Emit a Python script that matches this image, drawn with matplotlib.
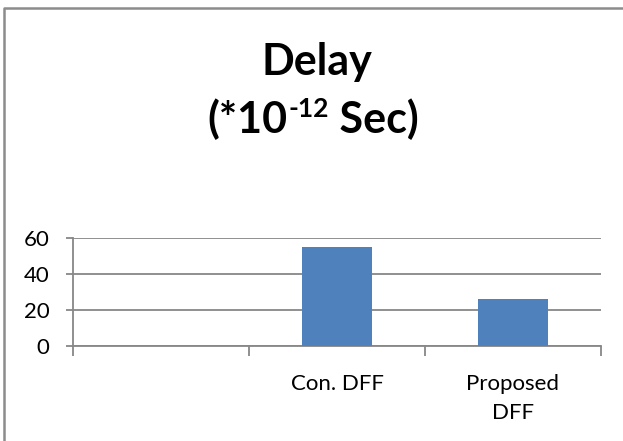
import numpy as np
import matplotlib
matplotlib.use("Agg")
import matplotlib.pyplot as plt
from matplotlib.lines import Line2D

plt.rcParams["font.family"] = ["Lato", "DejaVu Sans"]

# data
categories = ["", "Con. DFF", "Proposed\nDFF"]
delay = [np.nan, 55, 26]  # *10^-12 s, first slot is empty
y_ticks = [0, 20, 40, 60]

GRID = "#878787"
BAR = "#4f81bd"

fig = plt.figure(figsize=(6.23, 4.41), dpi=100)
ax = fig.add_axes([73 / 623, 1 - 346 / 441, 528 / 623, 108 / 441])

x = np.arange(len(categories))
ax.bar(x, delay, width=0.4, color=BAR, zorder=3)

ax.set_xlim(-0.5, len(categories) - 0.5)
ax.set_ylim(0, 60)
ax.set_yticks(y_ticks)
ax.yaxis.grid(True, color=GRID, linewidth=1.3, zorder=0)

# category labels sit between the boundary ticks
ax.set_xticks(x)
ax.set_xticklabels(categories, fontsize=16, linespacing=1.55)
ax.tick_params(axis="x", length=0, pad=20)
ax.set_xticks(np.arange(len(categories) + 1) - 0.5, minor=True)
ax.tick_params(axis="x", which="minor", length=7, width=1.3, color=GRID)
ax.tick_params(axis="y", length=5, width=1.3, color=GRID, labelsize=16, pad=12)

for side in ["top", "right"]:
    ax.spines[side].set_visible(False)
for side in ["left", "bottom"]:
    ax.spines[side].set_color(GRID)
    ax.spines[side].set_linewidth(1.3)

# title, second line built from pieces so the exponent is a raised small text
fig.text(317 / 623, 1 - 75 / 441, "Delay", ha="center", va="baseline",
         fontsize=31, fontweight="bold")
t1 = fig.text(207 / 623, 1 - 133 / 441, "(*10", ha="left", va="baseline",
              fontsize=31, fontweight="bold")
t2 = fig.add_artist(plt.Annotation("-12", xy=(1, 1), xycoords=t1,
                                   xytext=(1, 1), textcoords="offset points",
                                   ha="left", va="top", fontsize=19,
                                   fontweight="bold"))
fig.add_artist(plt.Annotation(" Sec)", xy=(1, 0), xycoords=(t2, t1),
                              ha="left", va="bottom", fontsize=31,
                              fontweight="bold"))

# chart frame (only top and left edges fall inside the image)
fig.add_artist(Line2D([4 / 623, 4 / 623, 1], [0, 1 - 8 / 441, 1 - 8 / 441],
                      transform=fig.transFigure, color="#8c8c8c", linewidth=1.8))

fig.savefig("out.png", dpi=100)
